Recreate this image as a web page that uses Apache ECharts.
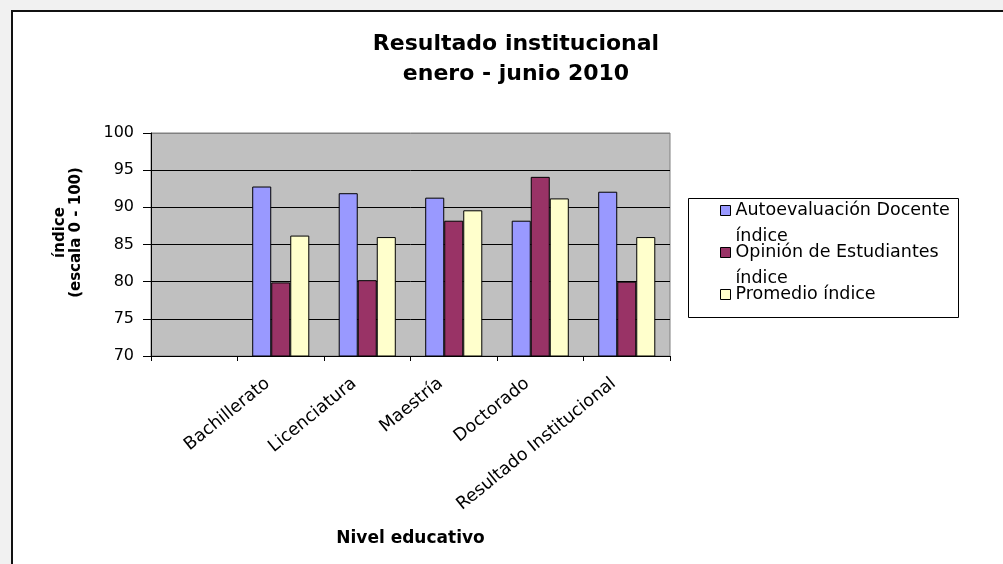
<!DOCTYPE html>
<html>
<head>
<meta charset="utf-8">
<script src="https://cdn.jsdelivr.net/npm/echarts@6/dist/echarts.min.js"></script>
<style>
    html, body { margin: 0; padding: 0; overflow: hidden; }
    body { width: 1003px; height: 564px; background: #f1f1f1; position: relative; }
    .frame {
        position: absolute; left: 11px; top: 10px; width: 1000px; height: 560px;
        background: #fff; border-left: 2px solid #111; border-top: 2px solid #111;
    }
    #chart0 { position: absolute; left: 0; top: 0; width: 1003px; height: 564px; }
</style>
</head>
<body>
<div class="frame"></div>
<div id="chart0"></div>
<script>
// categorias (la primera queda vacia como en el original)
var categories = ['', 'Bachillerato', 'Licenciatura', 'Maestría', 'Doctorado', 'Resultado Institucional'];
var seriesNames = ['Autoevaluación Docente índice', 'Opinión de Estudiantes índice', 'Promedio índice'];
var legendLabels = ['Autoevaluación Docente\níndice', 'Opinión de Estudiantes\níndice', 'Promedio índice'];
var autoevaluacion = [null, 92.8, 91.9, 91.3, 88.2, 92.1];
var opinion = [null, 79.9, 80.2, 88.2, 94.1, 80.0];
var promedio = [null, 86.2, 86.0, 89.6, 91.2, 86.0];
var yTicks = [70, 75, 80, 85, 90, 95, 100];

var font = 'DejaVu Sans';
var chartDom = document.getElementById('chart0');
var myChart = echarts.init(chartDom);
var option;

function barSerie(name, data, color) {
    return {
        name: name,
        type: 'bar',
        data: data,
        barGap: '0%',
        barCategoryGap: '34%',
        itemStyle: { color: color, borderColor: '#000', borderWidth: 1 },
        emphasis: { disabled: true }
    };
}

option = {
    animation: false,
    textStyle: { fontFamily: font, color: '#000' },
    title: {
        text: 'Resultado institucional\nenero - junio 2010',
        left: 511,
        top: 24,
        textAlign: 'center',
        textStyle: { fontFamily: font, fontSize: 22, fontWeight: 'bold', color: '#000', lineHeight: 30 }
    },
    graphic: [{
        type: 'rect',
        z: 0,
        shape: { x: 688.5, y: 198.5, width: 270, height: 119 },
        style: { fill: '#fff', stroke: '#000', lineWidth: 1 }
    }],
    legend: {
        orient: 'vertical',
        left: 720,
        top: 171.5,
        padding: 0,
        itemGap: -36,
        itemWidth: 10,
        itemHeight: 10,
        icon: 'rect',
        z: 5,
        itemStyle: { borderColor: '#000', borderWidth: 1 },
        textStyle: {
            fontFamily: font, fontSize: 17.5, color: '#000', lineHeight: 26,
            rich: { sp: { fontSize: 10, height: 26, lineHeight: 26 } }
        },
        formatter: function (name) {
            var t = legendLabels[seriesNames.indexOf(name)];
            // linea vacia arriba para que el icono quede junto a la primera linea
            return t.indexOf('\n') >= 0 ? '{sp| }\n' + t : t;
        },
        data: [
            { name: seriesNames[0] },
            { name: seriesNames[1] },
            { name: seriesNames[2], textStyle: { padding: [26, 0, 26, 0] } }
        ]
    },
    grid: {
        left: 151,
        top: 133,
        width: 519,
        height: 223,
        show: true,
        backgroundColor: '#c0c0c0',
        borderColor: '#808080',
        borderWidth: 1
    },
    xAxis: {
        type: 'category',
        data: categories,
        name: 'Nivel educativo',
        nameLocation: 'middle',
        nameGap: 174,
        nameTextStyle: { fontFamily: font, fontSize: 17, fontWeight: 'bold', color: '#000' },
        axisLine: { lineStyle: { color: '#000', width: 1 } },
        axisTick: { show: true, length: 5, lineStyle: { color: '#000' } },
        axisLabel: {
            rotate: 39, margin: 15, fontFamily: font, fontSize: 17.5, color: '#000', interval: 0,
            formatter: function (v) { return v ? v + '   ' : v; }
        }
    },
    yAxis: {
        type: 'value',
        min: yTicks[0],
        max: yTicks[yTicks.length - 1],
        interval: 5,
        name: 'índice\n(escala 0 - 100)',
        nameLocation: 'middle',
        nameGap: 67,
        nameTextStyle: { fontFamily: font, fontSize: 15, fontWeight: 'bold', color: '#000', lineHeight: 16, padding: [0, 0, 0, 24] },
        axisLine: { show: true, lineStyle: { color: '#000', width: 1 } },
        axisTick: { show: true, length: 8, lineStyle: { color: '#000' } },
        axisLabel: { margin: 17, fontFamily: font, fontSize: 16, color: '#000' },
        splitLine: {
            show: true,
            lineStyle: { color: ['#000', '#000', '#000', '#000', '#000', '#000', '#808080'], width: 1 }
        }
    },
    series: [
        barSerie(seriesNames[0], autoevaluacion, '#9999ff'),
        barSerie(seriesNames[1], opinion, '#993366'),
        barSerie(seriesNames[2], promedio, '#ffffcc')
    ]
};

option && myChart.setOption(option);
</script>
</body>
</html>
